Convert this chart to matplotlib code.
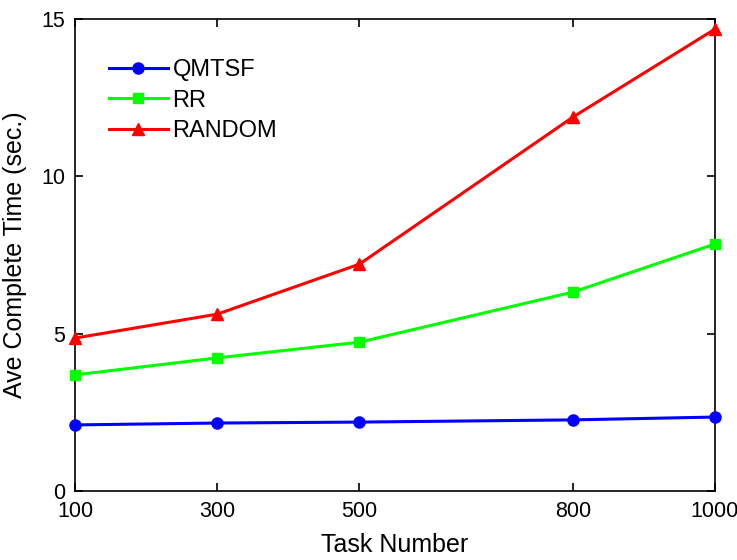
import matplotlib
matplotlib.use("Agg")
import matplotlib.pyplot as plt

tasks = [100, 300, 500, 800, 1000]
qmtsf = [2.10, 2.16, 2.19, 2.26, 2.35]
rr = [3.69, 4.23, 4.73, 6.32, 7.85]
random_ = [4.86, 5.62, 7.21, 11.88, 14.68]
xticks = [100, 300, 500, 800, 1000]
yticks = [0, 5, 10, 15]

plt.rcParams['font.family'] = ['Liberation Sans', 'DejaVu Sans']

fig = plt.figure(figsize=(7.37, 5.6), dpi=100)
ax = fig.add_axes([75/737, 1-491/560, 640/737, 472/560])

ax.plot(tasks, qmtsf, color='#0000ff', marker='o', markersize=8, linewidth=2.2, label='QMTSF', clip_on=False, zorder=3)
ax.plot(tasks, rr, color='#00ff00', marker='s', markersize=6.5, linewidth=2.2, label='RR', clip_on=False, zorder=3)
ax.plot(tasks, random_, color='#ff0000', marker='^', markersize=8, linewidth=2.2, label='RANDOM', clip_on=False, zorder=3)

ax.set_xlim(100, 1000)
ax.set_ylim(0, 15)
ax.set_xticks(xticks)
ax.set_yticks(yticks)
ax.tick_params(direction='in', top=True, right=True, length=6, width=1.2, labelsize=15.5, pad=7)
for s in ax.spines.values():
    s.set_linewidth(1.2)
ax.set_xlabel('Task Number', fontsize=18, labelpad=8)
ax.set_ylabel('Ave Complete Time (sec.)', fontsize=18, labelpad=10)

leg = ax.legend(loc='upper left', bbox_to_anchor=(0.038, 0.935), frameon=False, fontsize=17,
                handlelength=2.5, handletextpad=0.2, labelspacing=0.36, borderaxespad=0)

fig.savefig('out.png', dpi=100)
